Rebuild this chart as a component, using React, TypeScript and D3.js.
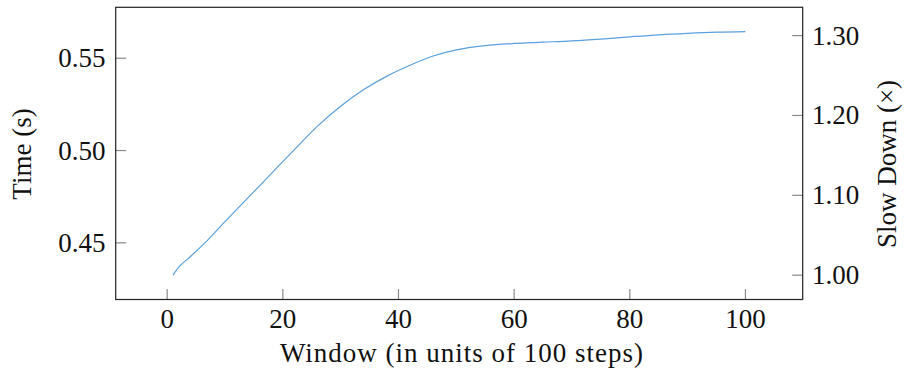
import React from "react";
import * as d3 from "d3";

const windows = [1, 2, 4, 7, 10, 14, 18, 22, 26, 30, 34, 38, 42, 46, 50, 55, 60, 65, 70, 75, 80, 85, 90, 95, 100];
const times = [0.4325, 0.4368, 0.4425, 0.4515, 0.4615, 0.4745, 0.4875, 0.5005, 0.5132, 0.524, 0.533, 0.5403, 0.5462, 0.5512, 0.5545, 0.5568, 0.558, 0.5587, 0.5594, 0.5604, 0.5616, 0.5627, 0.5635, 0.5641, 0.5644];
const xTicks = [0, 20, 40, 60, 80, 100];
const yTicks = [0.45, 0.5, 0.55];
const rTicks = [1.0, 1.1, 1.2, 1.3];

const W = 904;
const H = 373;
const L = 115.7, R = 802.7, T = 7.3, B = 299.5;
const FONT = "Liberation Serif, Times New Roman, serif";
const FS = 27;
const txt = { fontFamily: FONT, fontSize: FS, fill: "#111" } as React.CSSProperties;

export default function App() {
  const xmin = d3.min(windows)!, xmax = d3.max(windows)!;
  const ymin = d3.min(times)!, ymax = d3.max(times)!;
  const xr = xmax - xmin, yr = ymax - ymin;
  const x = d3.scaleLinear().domain([xmin - 0.1 * xr, xmax + 0.1 * xr]).range([L, R]);
  const yd: [number, number] = [ymin - 0.1 * yr, ymax + 0.1 * yr];
  const y = d3.scaleLinear().domain(yd).range([B, T]);
  const t0 = times[0];
  const yR = d3.scaleLinear().domain([yd[0] / t0, yd[1] / t0]).range([B, T]);
  const pts: [number, number][] = windows.map((w, i) => [w, times[i]]);
  const line = d3.line<[number, number]>().x(d => x(d[0])).y(d => y(d[1])).curve(d3.curveMonotoneX);
  const tickLen = 10.5;
  const tickColor = "#8a8a8a";
  return (
    <svg width={W} height={H} style={{ position: "absolute", left: 0, top: 0, background: "#fff" }}>
      <rect x={0} y={0} width={W} height={H} fill="#fff" />
      {xTicks.map(t => (
        <g key={"x" + t}>
          <line x1={x(t)} x2={x(t)} y1={B} y2={B - tickLen} stroke={tickColor} strokeWidth={1.2} />
          <text x={x(t)} y={328} textAnchor="middle" style={txt}>{t}</text>
        </g>
      ))}
      {yTicks.map(t => (
        <g key={"y" + t}>
          <line x1={L} x2={L + tickLen} y1={y(t)} y2={y(t)} stroke={tickColor} strokeWidth={1.2} />
          <text x={105.5} y={y(t) + 9} textAnchor="end" style={txt}>{t.toFixed(2)}</text>
        </g>
      ))}
      {rTicks.map(t => (
        <g key={"r" + t}>
          <line x1={R - tickLen} x2={R} y1={yR(t)} y2={yR(t)} stroke={tickColor} strokeWidth={1.2} />
          <text x={812} y={yR(t) + 9} textAnchor="start" style={txt}>{t.toFixed(2)}</text>
        </g>
      ))}
      <path d={line(pts)!} fill="none" stroke="#5aa0dc" strokeWidth={1.2} />
      <rect x={L} y={T} width={R - L} height={B - T} fill="none" stroke="#222" strokeWidth={1.2} />
      <text x={462} y={362} textAnchor="middle" style={{ ...txt, letterSpacing: 1 }}>Window (in units of 100 steps)</text>
      <text transform={`translate(31,154) rotate(-90)`} textAnchor="middle" style={txt}>Time (s)</text>
      <text transform={`translate(896,164) rotate(-90)`} textAnchor="middle" style={txt}>Slow Down (×)</text>
    </svg>
  );
}
